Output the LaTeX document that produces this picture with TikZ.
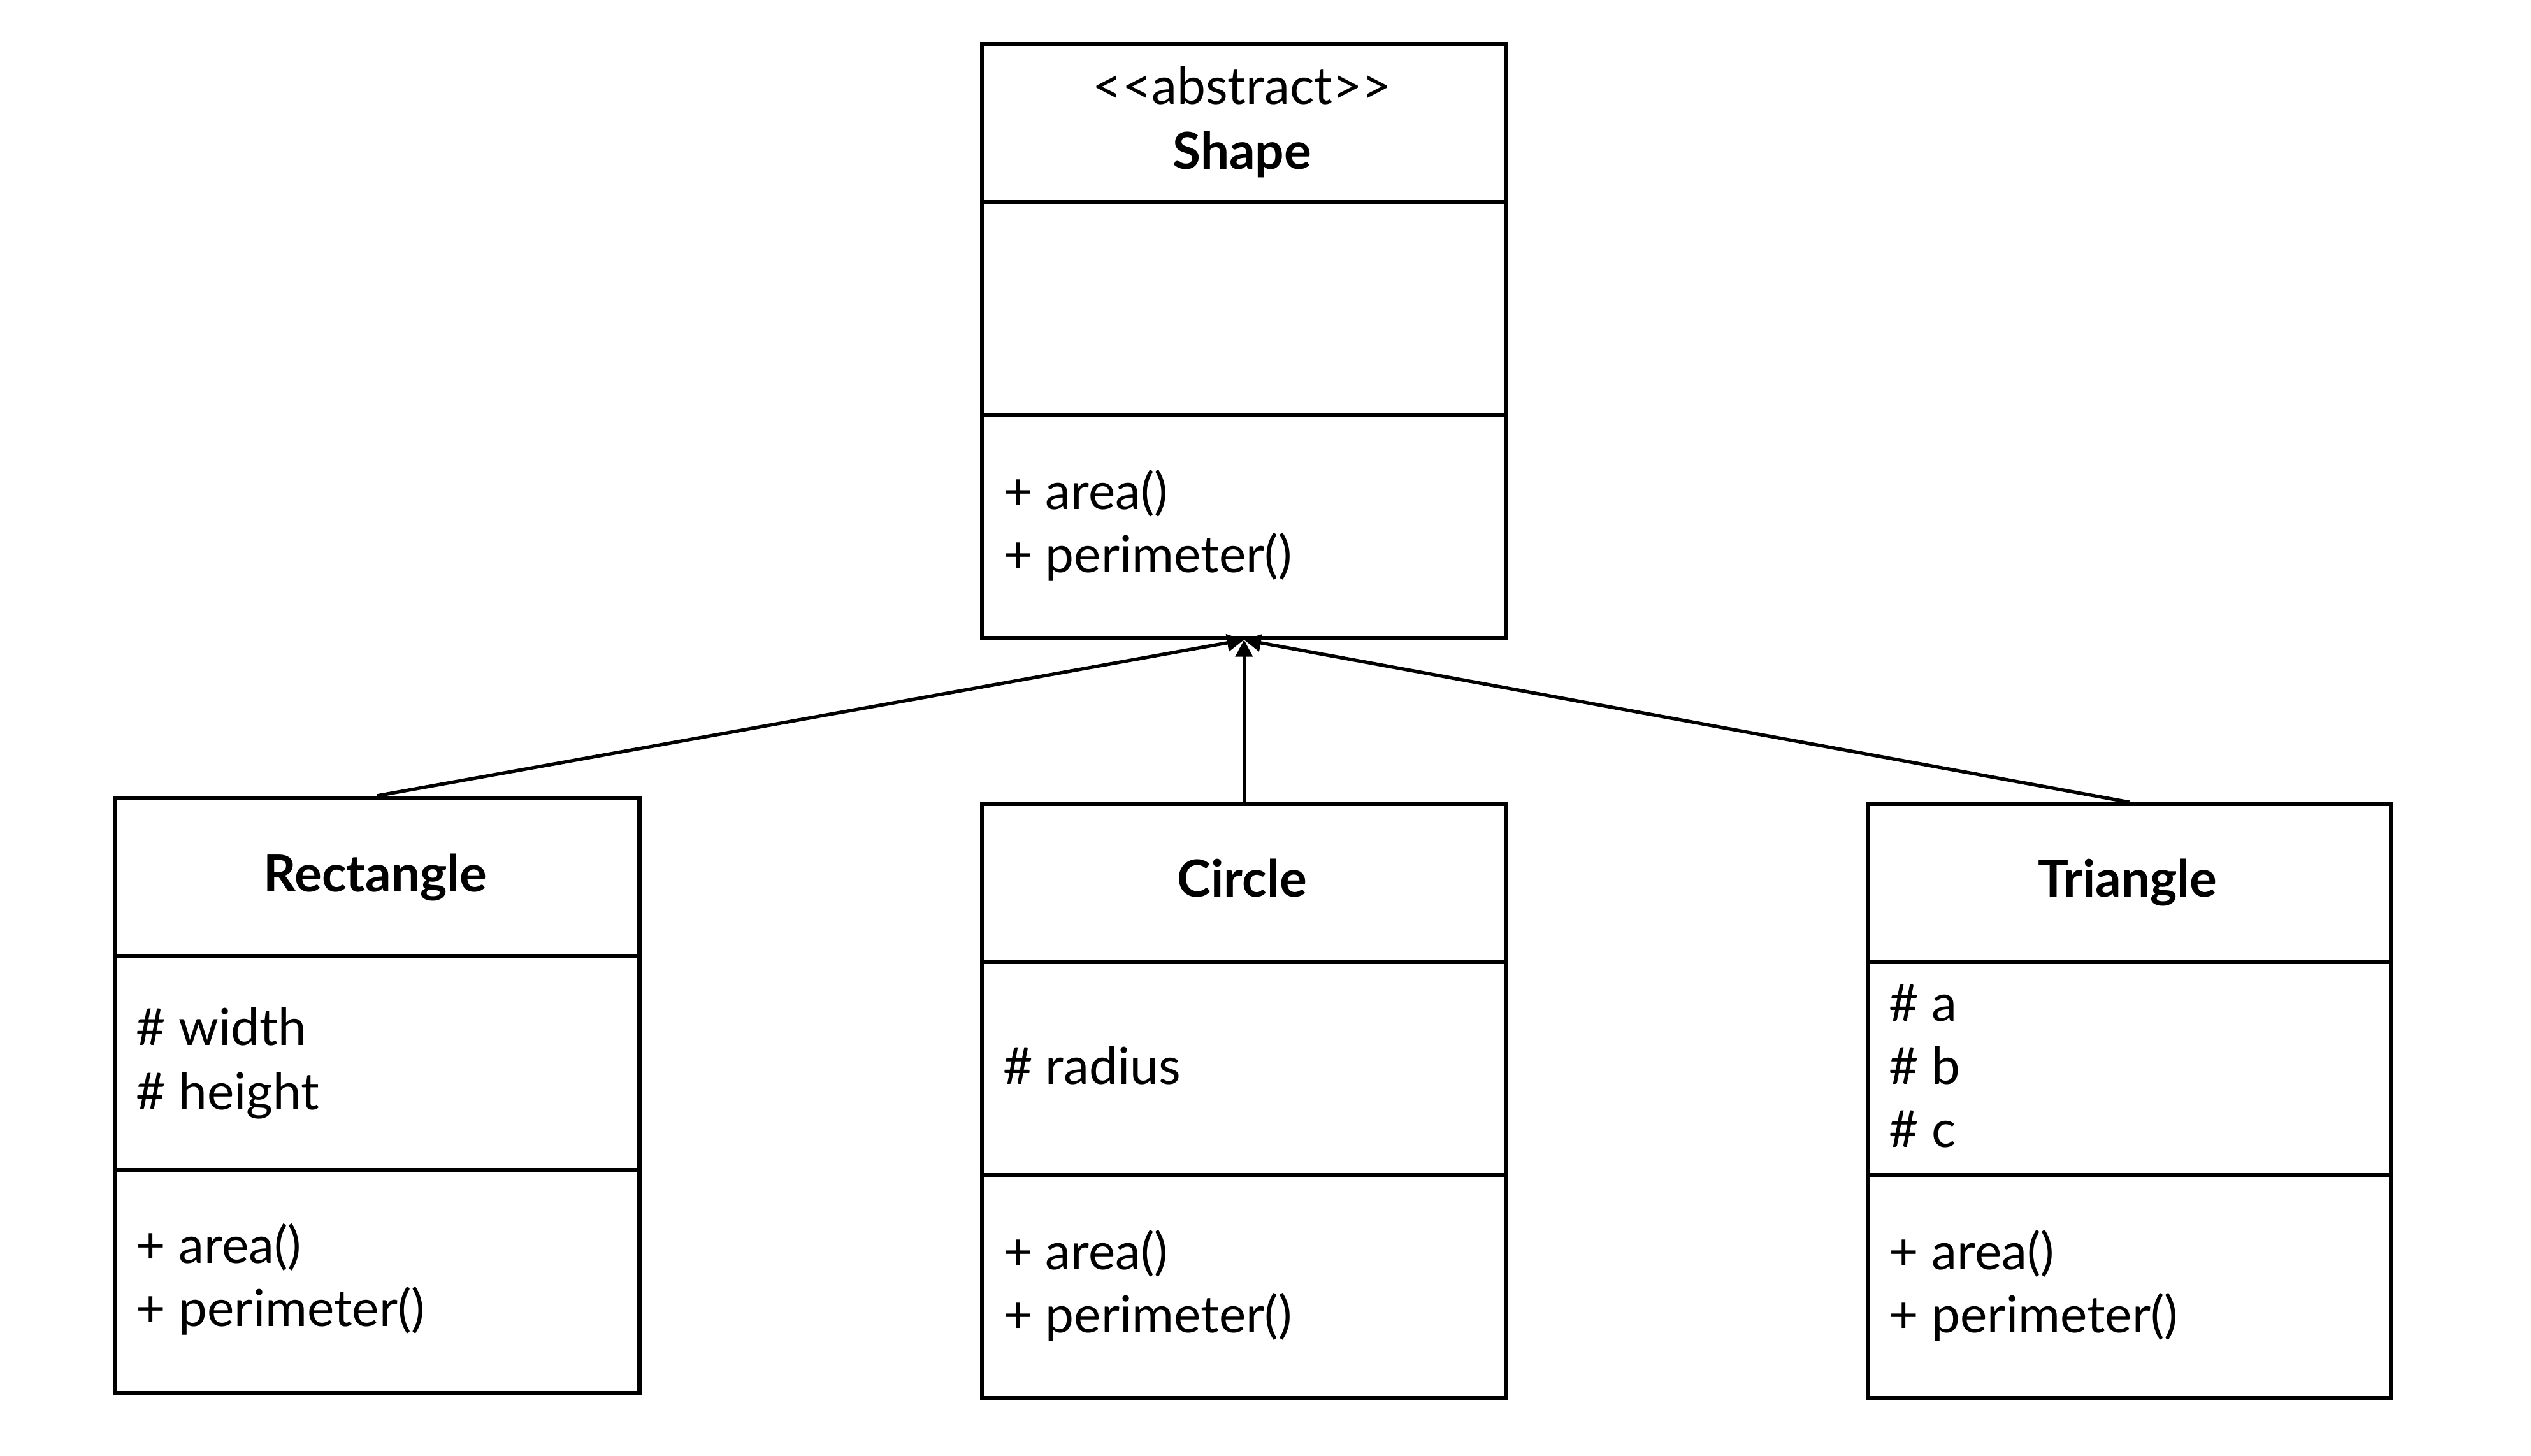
\documentclass[tikz,border=0pt]{standalone}
\usepackage{fontspec}
\setmainfont{Lato}
\usetikzlibrary{arrows.meta}
\tikzset{
  box/.style={draw=black,line width=1.4pt},
  sep/.style={draw=black,line width=1.4pt},
  txt/.style={anchor=west,inner sep=0pt,font=\fontsize{18}{21}\selectfont,text height=1.15em,text depth=0.05em},
  ttl/.style={anchor=center,inner sep=0pt,font=\fontsize{18}{21}\selectfont\bfseries,text height=1.15em,text depth=0.05em},
  ster/.style={anchor=center,inner sep=0pt,font=\fontsize{18}{21}\selectfont,text height=1.15em,text depth=0.05em},
  inh/.style={draw=black,line width=1.2pt,-{Triangle[length=0.21cm,width=0.21cm]}}
}
\begin{document}
\begin{tikzpicture}[x=0.02cm,y=-0.02cm]
\useasboundingbox (0,0) rectangle (1568,902);
% Shape
\node[box,minimum width=6.5cm,minimum height=7.36cm,anchor=north west,inner sep=0pt] (shape) at (607,26) {};
\draw[sep] (607,125) -- (932,125);
\draw[sep] (607,257) -- (932,257);
\node[ster] (shapeSt) at (769.5,55) {<{}<abstract>{}>};
\node[ttl] (shapeT) at (769.5,95) {Shape};
\node[txt] (shapeM1) at (621,306) {+ area()};
\node[txt] (shapeM2) at (621,345) {+ perimeter()};
% Rectangle
\node[box,minimum width=6.5cm,minimum height=7.38cm,anchor=north west,inner sep=0pt] (rect) at (70,493) {};
\draw[sep] (70,592) -- (395,592);
\draw[sep] (70,725) -- (395,725);
\node[ttl] (rectT) at (232.5,543) {Rectangle};
\node[txt] (rectA1) at (84,638) {\# width};
\node[txt] (rectA2) at (84,678) {\# height};
\node[txt] (rectM1) at (84,773) {+ area()};
\node[txt] (rectM2) at (84,812) {+ perimeter()};
% Circle
\node[box,minimum width=6.5cm,minimum height=7.36cm,anchor=north west,inner sep=0pt] (circ) at (607,497) {};
\draw[sep] (607,596) -- (932,596);
\draw[sep] (607,728) -- (932,728);
\node[ttl] (circT) at (769.5,546) {Circle};
\node[txt] (circA1) at (621,662) {\# radius};
\node[txt] (circM1) at (621,777) {+ area()};
\node[txt] (circM2) at (621,816) {+ perimeter()};
% Triangle
\node[box,minimum width=6.48cm,minimum height=7.36cm,anchor=north west,inner sep=0pt] (tri) at (1156,497) {};
\draw[sep] (1156,596) -- (1480,596);
\draw[sep] (1156,728) -- (1480,728);
\node[ttl] (triT) at (1318,546) {Triangle};
\node[txt] (triA1) at (1170,623) {\# a};
\node[txt] (triA2) at (1170,662) {\# b};
\node[txt] (triA3) at (1170,701) {\# c};
\node[txt] (triM1) at (1170,777) {+ area()};
\node[txt] (triM2) at (1170,816) {+ perimeter()};
% inheritance
\draw[inh] (rect.north) -- (shape.south);
\draw[inh] (circ.north) -- (shape.south);
\draw[inh] (tri.north) -- (shape.south);
\end{tikzpicture}
\end{document}
